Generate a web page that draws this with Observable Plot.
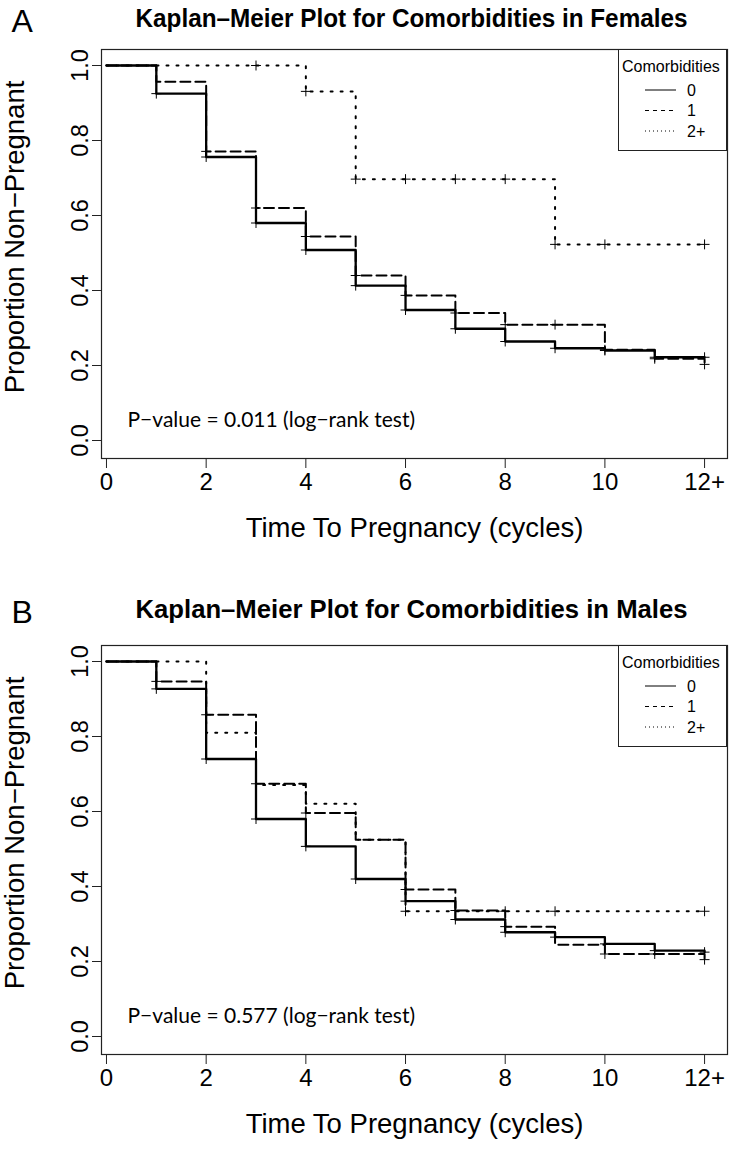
<!DOCTYPE html>
<html><head><meta charset="utf-8">
<script src="https://cdn.jsdelivr.net/npm/d3@7"></script>
<script src="https://cdn.jsdelivr.net/npm/@observablehq/plot@0.6"></script>
<style>
body{margin:0;background:#fff;}
#wrap{position:relative;width:730px;height:1149px;overflow:hidden;background:#fff;}
.panel{position:absolute;left:0;width:730px;height:553px;}
.legend{position:absolute;box-sizing:border-box;border:1px solid #222;background:#fff;}
</style></head><body><div id="wrap"></div>
<script>
// ---- data ----
const times = [0,1,2,3,4,5,6,7,8,9,10,11,12];
const groups = ["0","1","2+"];
// Females: proportion non-pregnant after each cycle
const femaleSurv0 = [1, 0.925, 0.756, 0.580, 0.508, 0.413, 0.348, 0.298, 0.264, 0.246, 0.240, 0.222, 0.222];
const femaleSurv1 = [1, 0.957, 0.771, 0.620, 0.544, 0.440, 0.387, 0.340, 0.309, 0.309, 0.242, 0.218, 0.203];
const femaleSurv2 = [1, 1, 1, 1, 0.931, 0.697, 0.697, 0.697, 0.697, 0.523, 0.523, 0.523, 0.523];
const femaleCens0 = [1,2,3,4,5,6,7,8,9,10,11,12];
const femaleCens1 = [2,3,4,5,6,7,8,9,10,11,12];
const femaleCens2 = [3,4,5,6,7,8,9,10,12];
// Males
const maleSurv0 = [1, 0.927, 0.740, 0.580, 0.507, 0.420, 0.361, 0.312, 0.278, 0.265, 0.247, 0.229, 0.225];
const maleSurv1 = [1, 0.947, 0.858, 0.674, 0.596, 0.525, 0.392, 0.336, 0.293, 0.245, 0.220, 0.220, 0.205];
const maleSurv2 = [1, 1, 0.810, 0.671, 0.621, 0.525, 0.334, 0.334, 0.334, 0.334, 0.334, 0.334, 0.334];
const maleCens0 = [1,2,3,4,5,6,7,8,9,10,11,12];
const maleCens1 = [1,2,3,4,6,7,8,10,11,12];
const maleCens2 = [6,8,9,12];
const xTicks = [0,2,4,6,8,10,12];
const xTickLabels = ["0","2","4","6","8","10","12+"];
const yTicks = [0,0.2,0.4,0.6,0.8,1.0];
const yLabel = "Proportion Non\u2212Pregnant";
const xLabel = "Time To Pregnancy (cycles)";
const legendTitle = "Comorbidities";
const dashes = {"0": null, "1": "10,5", "2+": "2,8"};
const widths = {"0": 2.3, "1": 2, "2+": 2};

function buildPanel(letter, title, survs, cens, pText, top, titleDy) {
  const lineData = [];
  survs.forEach((s, gi) => times.forEach((t, i) => lineData.push({t, s: s[i], g: groups[gi]})));
  const censData = [];
  cens.forEach((c, gi) => c.forEach(t => censData.push({t, s: survs[gi][times.indexOf(t)], g: groups[gi]})));
  const chart = Plot.plot({
    width: 730, height: 553,
    marginLeft: 101, marginRight: 3, marginTop: 49, marginBottom: 95,
    style: {fontFamily: "'Liberation Sans', Arial, sans-serif", color: "#000", background: "transparent", overflow: "visible"},
    x: {domain: [-0.1, 12.46], axis: null},
    y: {domain: [-0.048, 1.0427], axis: null},
    marks: [
      Plot.frame({stroke: "#222", strokeWidth: 1.2}),
      Plot.axisX(xTicks, {tickSize: 10, tickPadding: 4, fontSize: 24, label: null, stroke: "#222",
        tickFormat: d => xTickLabels[xTicks.indexOf(d)]}),
      Plot.axisY(yTicks, {tickSize: 9, tickFormat: () => "", label: null, stroke: "#222"}),
      Plot.text(yTicks, {y: d => d, text: d => d.toFixed(1), frameAnchor: "left", dx: -21, rotate: -90,
        fontSize: 23.5, textAnchor: "middle", lineAnchor: "middle"}),
      Plot.text([yLabel], {frameAnchor: "left", dx: -86, dy: -17, rotate: -90, fontSize: 27.5,
        textAnchor: "middle", lineAnchor: "middle"}),
      Plot.text([xLabel], {frameAnchor: "bottom", dy: 70, fontSize: 27.5, lineAnchor: "middle"}),
      Plot.text([title], {frameAnchor: "top", dx: -3, dy: titleDy, fontSize: 26, fontWeight: "bold",
        fontFamily: "'Liberation Sans Narrow', 'Arial Narrow', 'Liberation Sans', sans-serif", lineAnchor: "middle"}),
      Plot.text([letter], {frameAnchor: "top-left", dx: -90, dy: titleDy + 3, fontSize: 32, lineAnchor: "middle"}),
      Plot.text([pText], {frameAnchor: "bottom-left", dx: 26, dy: -38, fontSize: 21, textAnchor: "start",
        lineAnchor: "middle", fontFamily: "Lato, 'Open Sans', sans-serif"}),
      ...groups.map(g => Plot.line(lineData.filter(d => d.g === g), {x: "t", y: "s", curve: "step-after",
        stroke: "#000", strokeWidth: widths[g], strokeDasharray: dashes[g]})),
      Plot.dot(censData, {x: "t", y: "s", symbol: "plus", r: 3.3, stroke: "#000", strokeWidth: 1})
    ]
  });
  // condense the bold title like the reference's narrow face
  chart.querySelectorAll("text").forEach(el => {
    if (el.textContent === title) {
      el.setAttribute("textLength", 552);
      el.setAttribute("lengthAdjust", "spacingAndGlyphs");
    }
  });
  const div = document.createElement("div");
  div.className = "panel";
  div.style.top = top + "px";
  div.appendChild(chart);
  // legend
  const leg = document.createElement("div");
  leg.className = "legend";
  Object.assign(leg.style, {left: "618px", top: "49px", width: "109px", height: "102px"});
  const svg = d3.create("svg").attr("width", 107).attr("height", 100)
    .style("font-family", "'Liberation Sans', Arial, sans-serif");
  svg.append("text").attr("x", 3).attr("y", 16).attr("dy", "0.35em").attr("font-size", 16).text(legendTitle);
  groups.forEach((g, i) => {
    const y = 40 + i * 20.5;
    svg.append("line").attr("x1", 26).attr("x2", 57).attr("y1", y).attr("y2", y)
      .attr("stroke", "#000").attr("stroke-width", 1).attr("stroke-dasharray", g === "1" ? "4,4" : g === "2+" ? "1,3" : null);
    svg.append("text").attr("x", 68).attr("y", y).attr("dy", "0.35em").attr("font-size", 16).text(g);
  });
  leg.appendChild(svg.node());
  div.appendChild(leg);
  document.getElementById("wrap").appendChild(div);
}

buildPanel("A", "Kaplan\u2013Meier Plot for Comorbidities in Females",
  [femaleSurv0, femaleSurv1, femaleSurv2], [femaleCens0, femaleCens1, femaleCens2],
  "P\u2212value = 0.011 (log\u2212rank test)", 0, -31);
buildPanel("B", "Kaplan\u2013Meier Plot for Comorbidities in Males",
  [maleSurv0, maleSurv1, maleSurv2], [maleCens0, maleCens1, maleCens2],
  "P\u2212value = 0.577 (log\u2212rank test)", 596, -36);
</script></body></html>
